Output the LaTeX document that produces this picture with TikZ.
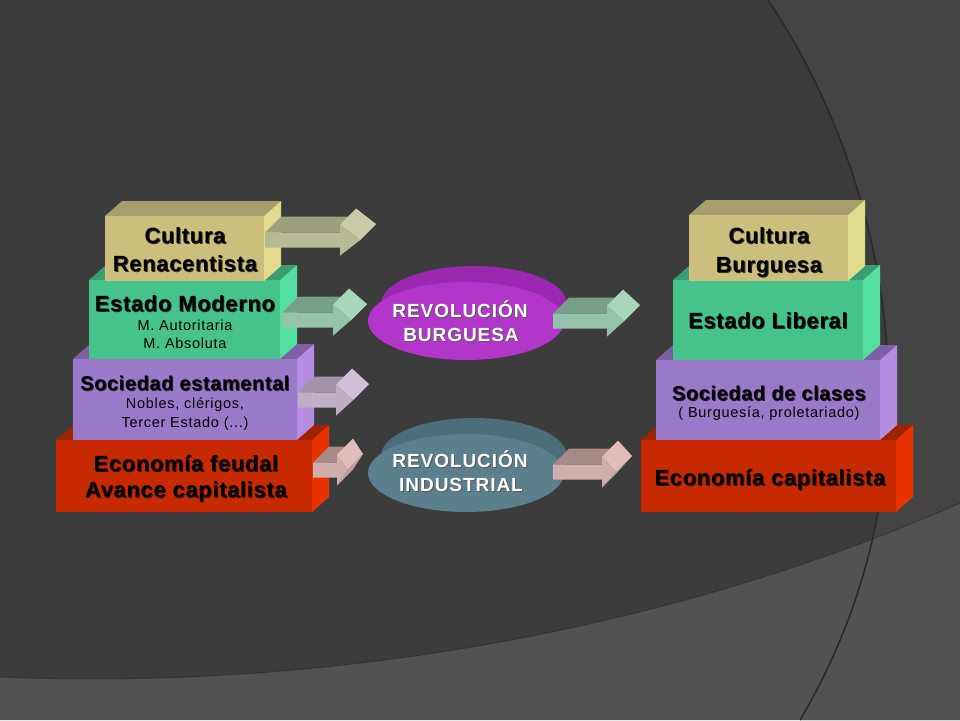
\documentclass[tikz,border=0pt]{standalone}
\usepackage{fontspec}
\setmainfont{Liberation Sans}
\newfontfamily\ttlfont[LetterSpace=3]{Liberation Sans}
\newfontfamily\subfont[LetterSpace=5]{Liberation Sans}
\newfontfamily\revfont[LetterSpace=5]{Liberation Sans}
\usetikzlibrary{shapes.geometric}

\definecolor{bg}{HTML}{3C3C3C}
\definecolor{bgR}{HTML}{444444}
\definecolor{bgB}{HTML}{525252}
\definecolor{edgeC}{HTML}{2A2A2A}
% boxes
\definecolor{culF}{HTML}{CCBF7D}\definecolor{culT}{HTML}{A69E6B}\definecolor{culS}{HTML}{E2DA8C}
\definecolor{estF}{HTML}{45C38A}\definecolor{estT}{HTML}{3A9E74}\definecolor{estS}{HTML}{52DFA0}
\definecolor{socF}{HTML}{9A79C9}\definecolor{socT}{HTML}{7D5FA3}\definecolor{socS}{HTML}{B68BE2}
\definecolor{ecoF}{HTML}{C72A00}\definecolor{ecoT}{HTML}{9E2400}\definecolor{ecoS}{HTML}{E83300}
% arrows
\definecolor{a1T}{HTML}{9D9F7C}\definecolor{a1F}{HTML}{B7BA96}\definecolor{a1H}{HTML}{C9CCA6}
\definecolor{a2T}{HTML}{789F88}\definecolor{a2F}{HTML}{95C2AA}\definecolor{a2H}{HTML}{A8D6BB}
\definecolor{a3T}{HTML}{A392A8}\definecolor{a3F}{HTML}{C0AEC8}\definecolor{a3H}{HTML}{D2C0DA}
\definecolor{a4T}{HTML}{A88A88}\definecolor{a4F}{HTML}{CFAEAC}\definecolor{a4H}{HTML}{E0BCBA}
% ellipses
\definecolor{burF}{HTML}{B236CA}\definecolor{burT}{HTML}{9C28B2}
\definecolor{indF}{HTML}{5B7F8D}\definecolor{indT}{HTML}{4C6D7A}

\newcommand\shd[2]{\rlap{\kern1pt\raisebox{-1pt}{\textcolor{#1}{#2}}}#2}

% 3D box: x1 y1 x2 y2 front top side
\newcommand\cubebox[7]{%
  \fill[#6] (#1,#2) -- (#1+17,#2-15) -- (#3+17,#2-15) -- (#3,#2) -- cycle;
  \fill[#7] (#3,#2) -- (#3+17,#2-15) -- (#3+17,#4-15) -- (#3,#4) -- cycle;
  \fill[#5] (#1,#2) rectangle (#3,#4);
}
% 3D block arrow: xs xh yc L front top headtop
\newcommand\blockarrow[7]{%
  \fill[#6] (#1,#3-7.5) -- (#2,#3-7.5) -- (#2+16,#3-23.5) -- (#1+16,#3-23.5) -- cycle;
  \fill[#7!85!black] (#2+#4,#3) -- (#2,#3+15.5) -- (#2+16,#3-0.5) -- (#2+#4+16,#3-16) -- cycle;
  \fill[#7] (#2,#3-15.5) -- (#2+#4,#3) -- (#2+#4+16,#3-16) -- (#2+16,#3-31.5) -- cycle;
  \fill[#5] (#1,#3-7.5) -- (#2,#3-7.5) -- (#2,#3-15.5) -- (#2+#4,#3) -- (#2,#3+15.5) -- (#2,#3+7.5) -- (#1,#3+7.5) -- cycle;
}

\tikzset{
  ttl/.style={inner sep=0pt, anchor=base, text=black, font=\ttlfont\bfseries\fontsize{22}{26}\selectfont},
  ttls/.style={ttl, font=\ttlfont\bfseries\fontsize{20}{24}\selectfont},
  sub/.style={inner sep=0pt, anchor=base, text=black, font=\subfont\fontsize{14.5}{17}\selectfont},
  rev/.style={inner sep=0pt, anchor=base, text=white, font=\revfont\bfseries\fontsize{19}{23}\selectfont},
  disc/.style={ellipse, draw=none, inner sep=0pt},
}

\begin{document}
\begin{tikzpicture}[x=1pt,y=-1pt]
\useasboundingbox (0,0) rectangle (960,720);
% background
\fill[bg] (0,0) rectangle (960,720);
\fill[bgR] (768,0) .. controls (892,185) and (948,470) .. (800,720) -- (960,720) -- (960,0) -- cycle;
\fill[bgB] (0,677) .. controls (300,690) and (650,640) .. (960,503) -- (960,720) -- (0,720) -- cycle;
\draw[edgeC, line width=1.5pt] (768,0) .. controls (892,185) and (948,470) .. (800,720);
\draw[edgeC, line width=1pt, opacity=.6] (0,677) .. controls (300,690) and (650,640) .. (960,503);

% left stack (bottom up)
\cubebox{56}{440}{312}{512}{ecoF}{ecoT}{ecoS}
\cubebox{73}{359}{297}{440}{socF}{socT}{socS}
\cubebox{89}{280}{280}{359}{estF}{estT}{estS}
\cubebox{105}{216}{264}{281}{culF}{culT}{culS}
% right stack
\cubebox{641}{440}{896}{512}{ecoF}{ecoT}{ecoS}
\cubebox{656}{360}{880}{440}{socF}{socT}{socS}
\cubebox{673}{280}{863}{360}{estF}{estT}{estS}
\cubebox{689}{215}{848}{281}{culF}{culT}{culS}

% ellipses
\fill[burT] (474,304) ellipse [x radius=93, y radius=38];
\node[disc, fill=burF, minimum width=196pt, minimum height=78pt] (burg) at (466,321) {};
\fill[indT] (474,456) ellipse [x radius=93, y radius=38];
\node[disc, fill=indF, minimum width=196pt, minimum height=78pt] (indu) at (466,473) {};

% arrows
\blockarrow{265}{340}{240}{20}{a1F}{a1T}{a1H}
\blockarrow{282}{333}{320}{18}{a2F}{a2T}{a2H}
\blockarrow{298}{336}{400}{17}{a3F}{a3T}{a3H}
\blockarrow{313}{337}{470}{10}{a4F}{a4T}{a4H}
\blockarrow{553}{607}{321}{17}{a2F}{a2T}{a2H}
\blockarrow{553}{602}{472}{14}{a4F}{a4T}{a4H}

% texts left
\node[ttl] (c1a) at (185,243) {\shd{culF!25!black}{Cultura}};
\node[ttl] (c1b) at (185,271) {\shd{culF!25!black}{Renacentista}};
\node[ttl] (e1a) at (185,311) {\shd{estF!25!black}{Estado Moderno}};
\node[sub] (e1b) at (185,330) {M. Autoritaria};
\node[sub] (e1c) at (185,348) {M. Absoluta};
\node[ttls] (s1a) at (185,390) {\shd{socF!25!black}{Sociedad estamental}};
\node[sub] (s1b) at (185,408) {Nobles, clérigos,};
\node[sub] (s1c) at (185,427) {Tercer Estado (...)};
\node[ttl] (f1a) at (186,471) {\shd{ecoF!25!black}{Economía feudal}};
\node[ttl] (f1b) at (186,497) {\shd{ecoF!25!black}{Avance capitalista}};
% texts right
\node[ttl] (c2a) at (769,243) {\shd{culF!25!black}{Cultura}};
\node[ttl] (c2b) at (769,272) {\shd{culF!25!black}{Burguesa}};
\node[ttl] (e2a) at (768,328) {\shd{estF!25!black}{Estado Liberal}};
\node[ttls] (s2a) at (769,400) {\shd{socF!25!black}{Sociedad de clases}};
\node[sub] (s2b) at (769,417) {( Burguesía, proletariado)};
\node[ttl] (f2a) at (770,485) {\shd{ecoF!25!black}{Economía capitalista}};
% ellipse texts
\node[rev] (r1a) at (460,317) {\shd{black!65}{REVOLUCIÓN}};
\node[rev] (r1b) at (461,341) {\shd{black!65}{BURGUESA}};
\node[rev] (r2a) at (460,467) {\shd{black!65}{REVOLUCIÓN}};
\node[rev] (r2b) at (461,491) {\shd{black!65}{INDUSTRIAL}};
\end{tikzpicture}
\end{document}
